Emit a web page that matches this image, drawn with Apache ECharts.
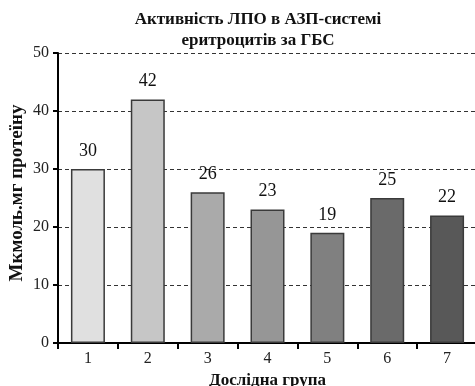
<!DOCTYPE html>
<html><head><meta charset="utf-8">
<script src="https://cdn.jsdelivr.net/npm/echarts@6/dist/echarts.min.js"></script>
<style>html,body{margin:0;padding:0;background:#fff}#c{width:475px;height:386px}</style>
</head><body><div id="c"></div>
<script>
const titleText = 'Активність ЛПО в АЗП-системі\nеритроцитів за ГБС';
const categories = ['1','2','3','4','5','6','7'];
const values = [30, 42, 26, 23, 19, 25, 22];
const barColors = ['#e0e0e0','#c6c6c6','#aaaaaa','#969696','#808080','#6a6a6a','#585858'];
const yName = 'Мкмоль.мг протеїну';
const xName = 'Дослідна група';
const F = '"Liberation Serif","DejaVu Serif",serif';
const chart = echarts.init(document.getElementById('c'), null, {renderer:'canvas'});
chart.setOption({
  animation:false,
  title:{text:titleText,left:253,textAlign:'center',top:4,
    textStyle:{fontFamily:F,fontWeight:'bold',fontSize:17,color:'#111',lineHeight:21}},
  graphic:[{type:'text',x:17,y:193,rotation:Math.PI/2,
    style:{text:yName,fontFamily:F,fontWeight:'bold',fontSize:19,fill:'#111',
      align:'center',verticalAlign:'middle'}}],
  grid:{left:58,right:-2,top:53,bottom:43,containLabel:false,outerBoundsMode:'none'},
  xAxis:{type:'category',data:categories,name:xName,nameLocation:'middle',nameGap:24,
    nameTextStyle:{fontFamily:F,fontWeight:'bold',fontSize:17,color:'#111'},
    axisLine:{lineStyle:{color:'#000',width:2}},
    axisTick:{show:true,length:6,lineStyle:{color:'#000',width:2}},
    axisLabel:{fontFamily:F,fontSize:16,color:'#222',margin:8}},
  yAxis:{type:'value',min:0,max:50,interval:10,
    axisLine:{show:true,lineStyle:{color:'#000',width:2}},
    axisTick:{show:true,length:5,lineStyle:{color:'#000',width:2}},
    axisLabel:{fontFamily:F,fontSize:16,color:'#222',margin:9},
    splitLine:{lineStyle:{color:'#333',type:[4,3],width:1}}},
  series:[{type:'bar',barWidth:34,
    data:values.map((v,i)=>({value:v,itemStyle:{color:barColors[i]}})),
    itemStyle:{borderColor:'#3a3a3a',borderWidth:1.5},
    label:{show:true,position:'top',distance:9,fontFamily:F,fontSize:18,color:'#111'}}]
});
</script></body></html>
